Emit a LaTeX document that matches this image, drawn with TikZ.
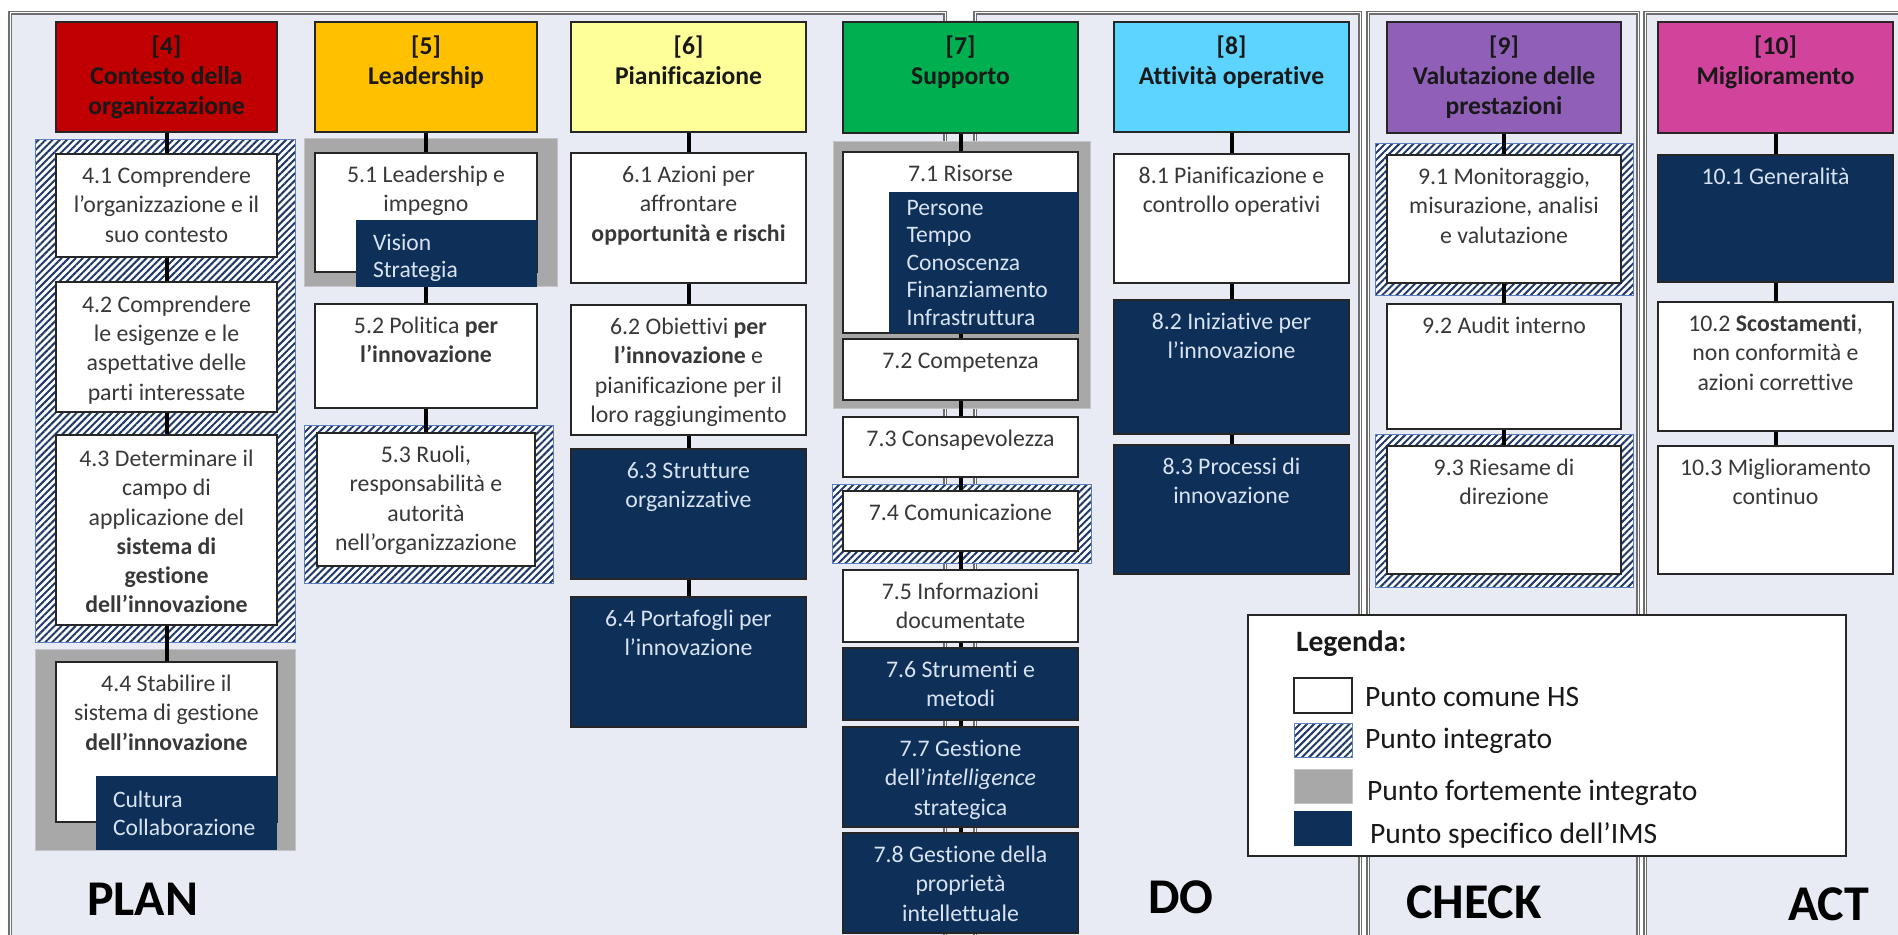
\documentclass[tikz,border=0pt]{standalone}
\usepackage{fontspec}
\setmainfont{Carlito}[Ligatures=NoCommon]
\usetikzlibrary{fit,patterns.meta}
\pgfdeclarelayer{frames}
\pgfdeclarelayer{groups}
\pgfdeclarelayer{conns}
\pgfsetlayers{frames,groups,conns,main}
\definecolor{bgc}{HTML}{E8EBF3}
\definecolor{navy}{HTML}{0E2F57}
\definecolor{hatchc}{HTML}{1F3A68}
\definecolor{hatchb}{HTML}{5B7FC0}
\definecolor{grp}{HTML}{A8A8A8}
\definecolor{grpb}{HTML}{C4C4C4}
\definecolor{lbl}{HTML}{D8E3F1}
\definecolor{txg}{HTML}{383838}
\definecolor{frm}{HTML}{6E6E6E}
\definecolor{c4}{HTML}{C00000}
\definecolor{c5}{HTML}{FFC000}
\definecolor{c6}{HTML}{FFFF99}
\definecolor{c7}{HTML}{00B050}
\definecolor{c8}{HTML}{5DD3FF}
\definecolor{c9}{HTML}{9060B8}
\definecolor{c10}{HTML}{D2449C}
\definecolor{edge}{HTML}{262626}
\begin{document}
\begin{tikzpicture}[x=0.5pt,y=-0.5pt,
  every node/.style={inner sep=0pt, outer sep=0pt},
  frame/.style={draw=frm, double=white, double distance=0.5pt, line width=0.55pt, fill=bgc},
  hdr/.style={draw=edge, line width=0.8pt},
  wbox/.style={draw=edge, line width=0.8pt, fill=white},
  dbox/.style={draw=edge, line width=0.8pt, fill=navy},
  ibox/.style={fill=navy},
  hgrp/.style={draw=hatchb, line width=0.5pt, preaction={fill=white}, pattern={Lines[angle=45,distance=2.5pt,line width=1pt]}, pattern color=hatchc},
  ggrp/.style={draw=grpb, line width=0.5pt, fill=grp},
  conn/.style={draw=black, line width=2pt},
  htxt/.style={align=center, text=black!90, anchor=north, font=\bfseries\fontsize{12.8}{15}\selectfont},
  btxt/.style={align=center, text=txg, anchor=north, font=\fontsize{11.9}{14.6}\selectfont},
  dtxt/.style={align=center, text=lbl, anchor=north, font=\fontsize{11.9}{14.6}\selectfont},
  ltxt/.style={align=left, text=lbl, anchor=north west, font=\fontsize{11.8}{13.8}\selectfont},
  big/.style={font=\bfseries\fontsize{25}{30}\selectfont, text=black, anchor=base west},
  legt/.style={font=\fontsize{14.8}{17}\selectfont, text=black!90, anchor=base west},
]
\useasboundingbox (0,0) rectangle (1898,935);
\clip (0,0) rectangle (1898,935);

\begin{pgfonlayer}{frames}
\fill[white] (0,0) rectangle (1898,935);
\fill[bgc] (945,20) rectangle (975,960);
\path[frame] (10,13) rectangle (945,960);
\path[frame] (975,13) rectangle (1360,960);
\path[frame] (1368,13) rectangle (1638,960);
\path[frame] (1645,13) rectangle (1920,960);
\end{pgfonlayer}

\begin{pgfonlayer}{groups}
\node[hgrp, fit={(35,140) (295,642)}] (g4) {};
\node[ggrp, fit={(35,649) (295,850)}] (g44) {};
\node[ggrp, fit={(304,139) (557,287)}] (g51) {};
\node[hgrp, fit={(304,425) (553,583)}] (g53) {};
\node[ggrp, fit={(833,142) (1090,408)}] (g71) {};
\node[hgrp, fit={(832,484) (1091,563)}] (g74) {};
\node[hgrp, fit={(1375,144) (1633,296)}] (g91) {};
\node[hgrp, fit={(1375,434) (1633,587)}] (g93) {};
\end{pgfonlayer}

% column 4
\node[hdr, fill=c4, fit={(56,22) (277,132)}] (h4) {};
\node[wbox, fit={(56,154) (277,257)}] (b41) {};
\node[wbox, fit={(56,282) (277,412)}] (b42) {};
\node[wbox, fit={(56,435) (277,625)}] (b43) {};
\node[wbox, fit={(56,662) (277,822)}] (b44) {};
\node[ibox, fit={(96,776) (277,850)}] (i44) {};
% column 5
\node[hdr, fill=c5, fit={(315,22) (537,132)}] (h5) {};
\node[wbox, fit={(315,153) (537,272)}] (b51) {};
\node[ibox, fit={(356,220) (537,287)}] (i51) {};
\node[wbox, fit={(315,304) (537,408)}] (b52) {};
\node[wbox, fit={(317,433) (535,566)}] (b53) {};
% column 6
\node[hdr, fill=c6, fit={(571,22) (806,132)}] (h6) {};
\node[wbox, fit={(571,153) (806,283)}] (b61) {};
\node[wbox, fit={(571,305) (806,435)}] (b62) {};
\node[dbox, fit={(571,449) (806,579)}] (b63) {};
\node[dbox, fit={(571,597) (806,727)}] (b64) {};
% column 7
\node[hdr, fill=c7, fit={(843,22) (1078,133)}] (h7) {};
\node[wbox, fit={(843,152) (1078,333)}] (b71) {};
\node[ibox, fit={(889,192) (1078,333)}] (i71) {};
\node[wbox, fit={(843,339) (1078,400)}] (b72) {};
\node[wbox, fit={(843,417) (1078,477)}] (b73) {};
\node[wbox, fit={(843,491) (1078,551)}] (b74) {};
\node[wbox, fit={(843,570) (1078,642)}] (b75) {};
\node[dbox, fit={(843,648) (1078,720)}] (b76) {};
\node[dbox, fit={(843,727) (1078,827)}] (b77) {};
\node[dbox, fit={(843,833) (1078,933)}] (b78) {};
% column 8
\node[hdr, fill=c8, fit={(1114,22) (1349,132)}] (h8) {};
\node[wbox, fit={(1114,154) (1349,283)}] (b81) {};
\node[dbox, fit={(1114,300) (1349,434)}] (b82) {};
\node[dbox, fit={(1114,445) (1349,574)}] (b83) {};
% column 9
\node[hdr, fill=c9, fit={(1387,22) (1621,133)}] (h9) {};
\node[wbox, fit={(1387,155) (1621,283)}] (b91) {};
\node[wbox, fit={(1387,304) (1621,429)}] (b92) {};
\node[wbox, fit={(1387,446) (1621,574)}] (b93) {};
% column 10
\node[hdr, fill=c10, fit={(1658,22) (1893,133)}] (h10) {};
\node[dbox, fit={(1658,155) (1893,282)}] (b101) {};
\node[wbox, fit={(1658,302) (1893,431)}] (b102) {};
\node[wbox, fit={(1658,446) (1893,574)}] (b103) {};

\begin{pgfonlayer}{conns}
\draw[conn] (h4) -- (b41);
\draw[conn] (b41) -- (b42);
\draw[conn] (b42) -- (b43);
\draw[conn] (b43) -- (b44);
\draw[conn] (h5) -- (b51);
\draw[conn] (b51) -- (b52);
\draw[conn] (b52) -- (b53);
\draw[conn] (h6) -- (b61);
\draw[conn] (b61) -- (b62);
\draw[conn] (b62) -- (b63);
\draw[conn] (b63) -- (b64);
\draw[conn] (h7) -- (b71);
\draw[conn] (b71) -- (b72);
\draw[conn] (b72) -- (b73);
\draw[conn] (b73) -- (b74);
\draw[conn] (b74) -- (b75);
\draw[conn] (b75) -- (b76);
\draw[conn] (b76) -- (b77);
\draw[conn] (b77) -- (b78);
\draw[conn] (h8) -- (b81);
\draw[conn] (b81) -- (b82);
\draw[conn] (b82) -- (b83);
\draw[conn] (h9) -- (b91);
\draw[conn] (b91) -- (b92);
\draw[conn] (b92) -- (b93);
\draw[conn] (h10) -- (b101);
\draw[conn] (b101) -- (b102);
\draw[conn] (b102) -- (b103);
\end{pgfonlayer}

% header texts
\node[htxt] (th4) at ([yshift=-6pt]h4.north) {\strut[4]\\Contesto della\\organizzazione};
\node[htxt] (th5) at ([yshift=-6pt]h5.north) {\strut[5]\\Leadership};
\node[htxt] (th6) at ([yshift=-6pt]h6.north) {\strut[6]\\Pianificazione};
\node[htxt] (th7) at ([yshift=-6pt]h7.north) {\strut[7]\\Supporto};
\node[htxt] (th8) at ([yshift=-6pt]h8.north) {\strut[8]\\Attività operative};
\node[htxt] (th9) at ([yshift=-6pt]h9.north) {\strut[9]\\Valutazione delle\\prestazioni};
\node[htxt] (th10) at ([yshift=-6pt]h10.north) {\strut[10]\\Miglioramento};

% body texts
\node[btxt] (t41) at ([yshift=-4.6pt]b41.north) {\strut 4.1 Comprendere\\l’organizzazione e il\\suo contesto};
\node[btxt] (t42) at ([yshift=-5pt]b42.north) {\strut 4.2 Comprendere\\le esigenze e le\\aspettative delle\\parti interessate};
\node[btxt] (t43) at ([yshift=-5.6pt]b43.north) {\strut 4.3 Determinare il\\campo di\\applicazione del\\\textbf{sistema di}\\\textbf{gestione}\\\textbf{dell’innovazione}};
\node[btxt] (t44) at ([yshift=-4.6pt]b44.north) {\strut 4.4 Stabilire il\\sistema di gestione\\\textbf{dell’innovazione}};
\node[ltxt] (ti44) at ([xshift=8.5pt,yshift=-6.1pt]i44.north west) {\strut Cultura\\Collaborazione};

\node[btxt] (t51) at ([yshift=-4.6pt]b51.north) {\strut 5.1 Leadership e\\impegno};
\node[ltxt] (ti51) at ([xshift=8.5pt,yshift=-5.5pt]i51.north west) {\strut Vision\\Strategia};
\node[btxt] (t52) at ([yshift=-4.6pt]b52.north) {\strut 5.2 Politica \textbf{per}\\\textbf{l’innovazione}};
\node[btxt] (t53) at ([yshift=-4.6pt]b53.north) {\strut 5.3 Ruoli,\\responsabilità e\\autorità\\nell’organizzazione};

\node[btxt] (t61) at ([yshift=-4.6pt]b61.north) {\strut 6.1 Azioni per\\affrontare\\\textbf{opportunità e rischi}};
\node[btxt] (t62) at ([yshift=-4.6pt]b62.north) {\strut 6.2 Obiettivi \textbf{per}\\\textbf{l’innovazione} e\\pianificazione per il\\loro raggiungimento};
\node[dtxt] (t63) at ([yshift=-4.6pt]b63.north) {\strut 6.3 Strutture\\organizzative};
\node[dtxt] (t64) at ([yshift=-4.6pt]b64.north) {\strut 6.4 Portafogli per\\l’innovazione};

\node[btxt] (t71) at ([yshift=-4.6pt]b71.north) {\strut 7.1 Risorse};
\node[ltxt] (ti71) at ([xshift=8.8pt,yshift=-1.9pt]i71.north west) {\strut Persone\\Tempo\\Conoscenza\\Finanziamento\\Infrastruttura};
\node[btxt] (t72) at ([yshift=-4.6pt]b72.north) {\strut 7.2 Competenza};
\node[btxt] (t73) at ([yshift=-4.6pt]b73.north) {\strut 7.3 Consapevolezza};
\node[btxt] (t74) at ([yshift=-4.6pt]b74.north) {\strut 7.4 Comunicazione};
\node[btxt] (t75) at ([yshift=-4.6pt]b75.north) {\strut 7.5 Informazioni\\documentate};
\node[dtxt] (t76) at ([yshift=-4.6pt]b76.north) {\strut 7.6 Strumenti e\\metodi};
\node[dtxt] (t77) at ([yshift=-4.6pt]b77.north) {\strut 7.7 Gestione\\dell’\textit{intelligence}\\strategica};
\node[dtxt] (t78) at ([yshift=-4.6pt]b78.north) {\strut 7.8 Gestione della\\proprietà\\intellettuale};

\node[btxt] (t81) at ([yshift=-4.6pt]b81.north) {\strut 8.1 Pianificazione e\\controllo operativi};
\node[dtxt] (t82) at ([yshift=-4.6pt]b82.north) {\strut 8.2 Iniziative per\\l’innovazione};
\node[dtxt] (t83) at ([yshift=-4.6pt]b83.north) {\strut 8.3 Processi di\\innovazione};

\node[btxt] (t91) at ([yshift=-4.6pt]b91.north) {\strut 9.1 Monitoraggio,\\misurazione, analisi\\e valutazione};
\node[btxt] (t92) at ([yshift=-4.6pt]b92.north) {\strut 9.2 Audit interno};
\node[btxt] (t93) at ([yshift=-4.6pt]b93.north) {\strut 9.3 Riesame di\\direzione};

\node[dtxt] (t101) at ([yshift=-4.6pt]b101.north) {\strut 10.1 Generalità};
\node[btxt] (t102) at ([yshift=-4.6pt]b102.north) {\strut 10.2 \textbf{Scostamenti},\\non conformità e\\azioni correttive};
\node[btxt] (t103) at ([yshift=-4.6pt]b103.north) {\strut 10.3 Miglioramento\\continuo};

% legend
\node[draw=edge, line width=0.8pt, fill=white, fit={(1248,615) (1846,856)}] (leg) {};
\node[font=\bfseries\fontsize{14.8}{17}\selectfont, text=black!90, anchor=base west] (legt0) at (1296,651) {Legenda:};
\node[wbox, fit={(1294,678) (1352,713)}] (s1) {};
\node[hgrp, fit={(1294,723) (1352,757)}] (s2) {};
\node[ggrp, fit={(1294,769) (1352,803)}] (s3) {};
\node[ibox, fit={(1294,811) (1352,846)}] (s4) {};
\node[legt] (l1) at (1365,706.5) {Punto comune HS};
\node[legt] (l2) at (1365,748.3) {Punto integrato};
\node[legt] (l3) at (1367,800) {Punto fortemente integrato};
\node[legt] (l4) at (1370,843.3) {Punto specifico dell’IMS};

% PDCA labels
\node[big] (plan) at (87,915) {PLAN};
\node[big] (do) at (1148,913) {DO};
\node[big] (check) at (1406,918) {CHECK};
\node[big] (act) at (1788,920) {ACT};
\end{tikzpicture}
\end{document}
